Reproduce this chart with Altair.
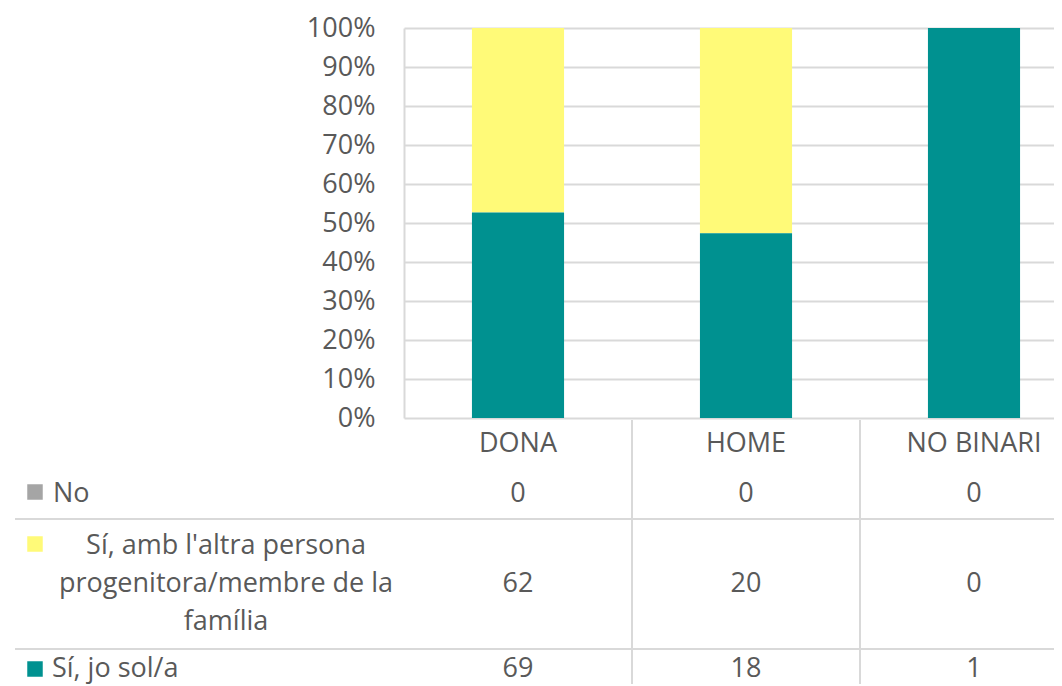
import altair as alt
import pandas as pd

categories = ["DONA", "HOME", "NO BINARI"]
series = ["No", "Sí, amb l'altra persona progenitora/membre de la família", "Sí, jo sol/a"]
series_lines = [["No"], ["Sí, amb l'altra persona", "progenitora/membre de la", "família"], ["Sí, jo sol/a"]]
no_vals = [0, 0, 0]
amb_vals = [62, 20, 0]
sol_vals = [69, 18, 1]
colors = ["#A5A5A5", "#FFFA78", "#009190"]
y_ticks = [0, 0.1, 0.2, 0.3, 0.4, 0.5, 0.6, 0.7, 0.8, 0.9, 1.0]

rows = []
for s, vals, order in [(series[0], no_vals, 3), (series[1], amb_vals, 2), (series[2], sol_vals, 1)]:
    for c, v in zip(categories, vals):
        rows.append({"cat": c, "series": s, "value": v, "ord": order})
df = pd.DataFrame(rows)

FONT = "Open Sans"
TXT = "#595959"
GRID = "#D9D9D9"
FS = 27
FULL_W = 684          # full plot range (partly beyond the window)
W = 650               # visible plot width
H = 390
STEP = FULL_W / len(categories)

xscale = alt.Scale(domain=categories, range=[0, FULL_W], paddingInner=0.596, paddingOuter=0.298)

bars = alt.Chart(df).mark_bar().encode(
    x=alt.X("cat:N", scale=xscale, sort=categories,
            axis=alt.Axis(title=None, labelAngle=0, ticks=False, domain=False, grid=False,
                          labelPadding=12, labelFontSize=FS, labelFont=FONT, labelColor=TXT)),
    y=alt.Y("value:Q", stack="normalize",
            scale=alt.Scale(domain=[0, 1], nice=False),
            axis=alt.Axis(title=None, values=y_ticks, format=".0%", ticks=False,
                          labelPadding=29, labelFontSize=FS, labelFont=FONT, labelColor=TXT,
                          grid=True, gridColor=GRID, gridWidth=2,
                          domain=True, domainColor=GRID, domainWidth=2)),
    color=alt.Color("series:N", scale=alt.Scale(domain=series, range=colors), legend=None),
    order=alt.Order("ord:Q"),
)

layers = [bars]

# table values
row_y = [466, 556, 641]
for s, yv in zip(series, row_y):
    layers.append(
        alt.Chart(df).transform_filter(alt.datum.series == s).mark_text(
            font=FONT, fontSize=FS, color=TXT, baseline="middle", align="center"
        ).encode(
            x=alt.X("cat:N", scale=xscale, sort=categories),
            y=alt.value(yv),
            text="value:Q",
        )
    )

# row labels with colour keys
label_df = pd.DataFrame({"series": series, "lines": series_lines, "color": colors})
label_pos = [(-351, 466, "left"), (-178, 518, "center"), (-352, 641, "left")]
for i, (xv, yv, al) in enumerate(label_pos):
    sub = label_df.iloc[[i]]
    layers.append(
        alt.Chart(sub).mark_text(font=FONT, fontSize=FS, color=TXT, baseline="middle",
                                 align=al, lineHeight=38).encode(
            x=alt.value(xv), y=alt.value(yv), text="lines"
        )
    )
key_y = [464, 516, 641]
for i, yv in enumerate(key_y):
    sub = label_df.iloc[[i]]
    layers.append(
        alt.Chart(sub).mark_square(size=240, opacity=1, filled=True).encode(
            x=alt.value(-369), y=alt.value(yv), color=alt.value(colors[i])
        )
    )

# table lines
one = pd.DataFrame({"a": [0]})
for yv in [491, 621]:
    layers.append(
        alt.Chart(one).mark_rule(color=GRID, strokeWidth=2).encode(
            x=alt.value(-389), x2=alt.value(W), y=alt.value(yv)
        )
    )
for k in [1, 2]:
    layers.append(
        alt.Chart(one).mark_rule(color=GRID, strokeWidth=2).encode(
            x=alt.value(STEP * k), y=alt.value(H + 2), y2=alt.value(H + 300)
        )
    )

chart = alt.layer(*layers).properties(
    width=W, height=H,
    autosize=alt.AutoSizeParams(type="none"),
    padding={"left": 396, "top": 20, "right": 0, "bottom": 266},
    background="white",
).configure_view(stroke=None)

chart.save("out.html", embed_options={"renderer": "svg", "actions": False})
